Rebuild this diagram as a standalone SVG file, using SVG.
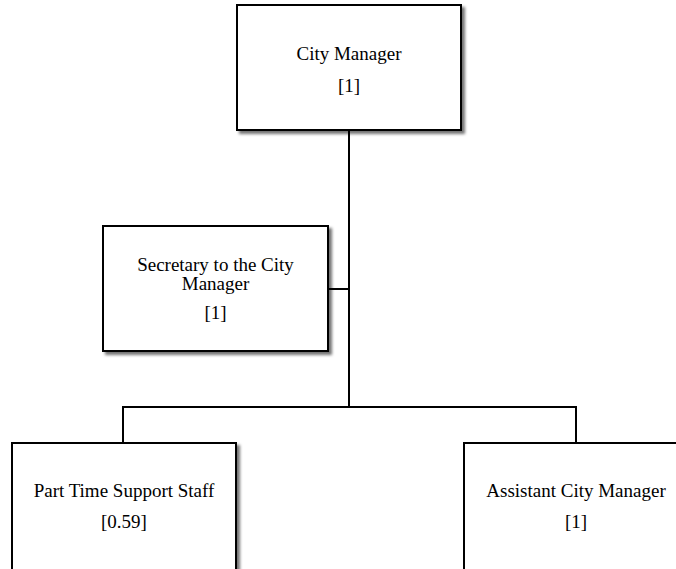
<svg xmlns="http://www.w3.org/2000/svg" width="676" height="569" viewBox="0 0 676 569">
<defs>
<filter id="sh" x="-10%" y="-10%" width="130%" height="130%">
<feDropShadow dx="3" dy="3" stdDeviation="1.5" flood-color="#000" flood-opacity="0.55"/>
</filter>
<style>
.box{fill:#fff;stroke:#000;stroke-width:2;filter:url(#sh)}
.t{font-family:'Liberation Serif','DejaVu Serif',serif;font-size:19px;fill:#000;text-anchor:middle}
.c{fill:none;stroke:#000;stroke-width:2}
</style>
</defs>
<rect width="676" height="569" fill="#fff"/>
<g id="connectors">
<path class="c" d="M349 130 V407"/>
<path class="c" d="M328 289 H349"/>
<path class="c" d="M123 443 V407 H576 V443"/>
</g>
<g id="city-manager">
<rect class="box" x="237" y="5" width="224" height="125"/>
<text class="t" font-family="Liberation Serif, serif" x="349" y="60">City Manager</text>
<text class="t" font-family="Liberation Serif, serif" x="349" y="92">[1]</text>
</g>
<g id="secretary">
<rect class="box" x="103" y="226" width="225" height="125"/>
<text class="t" font-family="Liberation Serif, serif" x="215.5" y="271">Secretary to the City</text>
<text class="t" font-family="Liberation Serif, serif" x="215.5" y="290">Manager</text>
<text class="t" font-family="Liberation Serif, serif" x="215.5" y="319">[1]</text>
</g>
<g id="part-time">
<rect class="box" x="12" y="443" width="224" height="140"/>
<text class="t" font-family="Liberation Serif, serif" x="124" y="497">Part Time Support Staff</text>
<text class="t" font-family="Liberation Serif, serif" x="124" y="528">[0.59]</text>
</g>
<g id="assistant">
<rect class="box" x="464" y="443" width="224" height="140"/>
<text class="t" font-family="Liberation Serif, serif" x="576" y="497">Assistant City Manager</text>
<text class="t" font-family="Liberation Serif, serif" x="576" y="528">[1]</text>
</g>
</svg>
